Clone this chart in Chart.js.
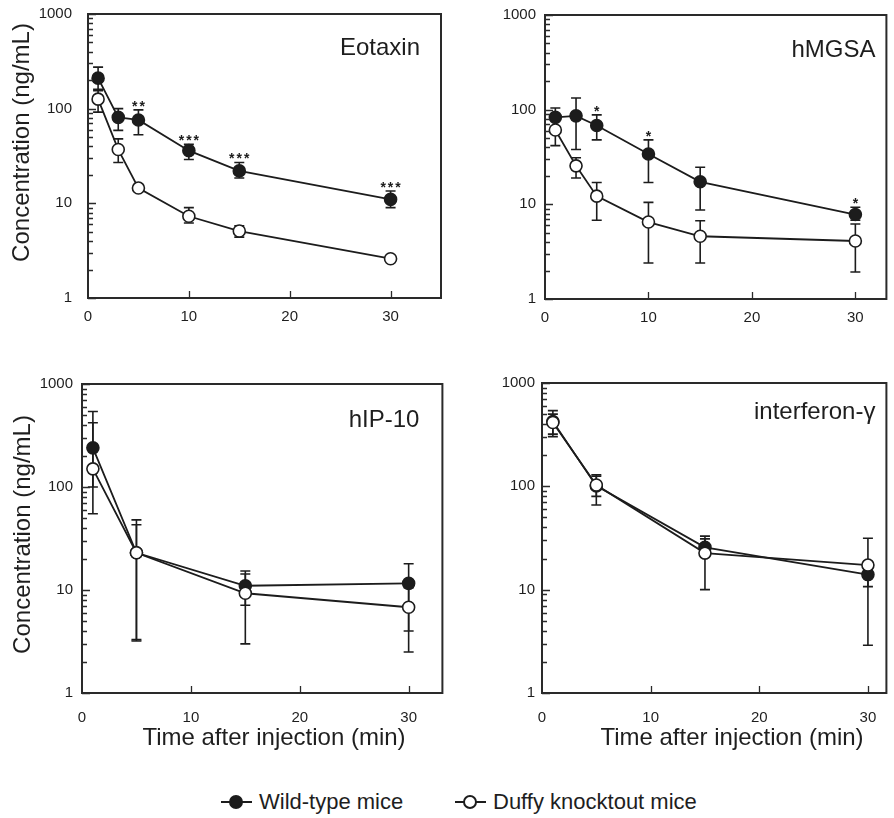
<!DOCTYPE html>
<html>
<head>
<meta charset="utf-8">
<script src="https://cdn.jsdelivr.net/npm/chart.js@4.4.0/dist/chart.umd.min.js"></script>
<style>
  body { margin: 0; background: #fff; width: 894px; height: 818px; position: relative; overflow: hidden;
         font-family: "Liberation Sans", Arial, sans-serif; color: #1e1e1e; }
  canvas { position: absolute; }
  .ln { position: absolute; height: 2px; width: 31px; background: #1c1c1c; top: 801px; }
  .dot { position: absolute; width: 14px; height: 14px; border-radius: 50%; box-sizing: border-box;
         border: 2px solid #1c1c1c; top: 795px; }
  .txt { position: absolute; top: 789px; font-size: 22px; line-height: 26px; white-space: nowrap; }
</style>
</head>
<body>
<canvas id="c1" width="450" height="335" style="left:0;top:0"></canvas>
<canvas id="c2" width="444" height="335" style="left:450px;top:0"></canvas>
<canvas id="c3" width="450" height="430" style="left:0;top:340px"></canvas>
<canvas id="c4" width="444" height="430" style="left:450px;top:340px"></canvas>

<!-- legend -->
<div class="ln" style="left:221px"></div>
<div class="dot" style="left:229px;background:#1c1c1c"></div>
<div class="txt" style="left:259px">Wild-type mice</div>
<div class="ln" style="left:455px"></div>
<div class="dot" style="left:463px;background:#fff"></div>
<div class="txt" style="left:493px">Duffy knocktout mice</div>

<script>
const INK = '#1c1c1c';
const yTicks = [1, 10, 100, 1000];
const xTicks = [0, 10, 20, 30];

// Eotaxin
const eotaxinTime = [1, 3, 5, 10, 15, 30];
const eotaxinWT = [210, 81, 76, 36, 22, 11];
const eotaxinWTHi = [275, 100, 97, 42, 27, 13.5];
const eotaxinWTLo = [155, 59, 53, 29, 18.5, 9];
const eotaxinKO = [126, 37, 14.5, 7.3, 5.1, 2.6];
const eotaxinKOHi = [160, 48, 15.5, 9, 5.8, 2.7];
const eotaxinKOLo = [92, 27, 13.6, 6.2, 4.4, 2.5];
const eotaxinSig = ['', '', '**', '***', '***', '***'];

// hMGSA
const hmgsaTime = [1, 3, 5, 10, 15, 30];
const hmgsaWT = [83, 86, 68, 34, 17.3, 7.8];
const hmgsaWTHi = [104, 133, 88, 48, 24.6, 9.3];
const hmgsaWTLo = [66, 38, 48, 17, 8.7, 6.8];
const hmgsaKO = [61, 25.5, 12.2, 6.5, 4.6, 4.1];
const hmgsaKOHi = [80, 31, 17, 10.5, 6.7, 6.2];
const hmgsaKOLo = [41.7, 19, 6.8, 2.4, 2.4, 1.93];
const hmgsaSig = ['', '', '*', '*', '', '*'];

// hIP-10
const hip10Time = [1, 5, 15, 30];
const hip10WT = [240, 23, 11, 11.6];
const hip10WTHi = [540, 43, 15.3, 18];
const hip10WTLo = [100, 3.2, 7.1, 4.0];
const hip10KO = [150, 23, 9.3, 6.8];
const hip10KOHi = [420, 48, 14.3, 10.5];
const hip10KOLo = [55, 3.3, 3.0, 2.5];

// interferon-gamma
const ifngTime = [1, 5, 15, 30];
const ifngWT = [424, 101, 25.7, 14];
const ifngWTHi = [540, 129, 31, 17.5];
const ifngWTLo = [303, 66, 21, 10.7];
const ifngKO = [415, 103, 22.6, 17.3];
const ifngKOHi = [500, 125, 33, 31.4];
const ifngKOLo = [320, 80, 10, 2.9];

Chart.defaults.font.family = '"Liberation Sans", Arial, sans-serif';
Chart.defaults.color = '#1e1e1e';

function makeSeries(times, vals, hi, lo, sig, filled) {
    return {
        data: times.map((t, i) => ({ x: t, y: vals[i] })),
        errHi: hi,
        errLo: lo,
        sig: sig,
        showLine: true,
        borderColor: INK,
        borderWidth: 1.8,
        pointRadius: 6,
        pointBorderWidth: 1.6,
        pointBackgroundColor: filled ? INK : '#fff',
        pointBorderColor: INK,
        order: filled ? 2 : 1
    };
}

// error bars, asterisks, frame, inner ticks and labels
const decorPlugin = {
    id: 'decor',
    beforeDatasetsDraw(chart) {
        const { ctx, scales: { x, y } } = chart;
        ctx.save();
        ctx.strokeStyle = INK;
        ctx.lineWidth = 1.6;
        chart.data.datasets.forEach(ds => {
            ds.data.forEach((p, i) => {
                const px = x.getPixelForValue(p.x);
                const top = y.getPixelForValue(ds.errHi[i]);
                const bot = y.getPixelForValue(ds.errLo[i]);
                ctx.beginPath();
                ctx.moveTo(px, top); ctx.lineTo(px, bot);
                ctx.moveTo(px - 5, top); ctx.lineTo(px + 5, top);
                ctx.moveTo(px - 5, bot); ctx.lineTo(px + 5, bot);
                ctx.stroke();
            });
        });
        ctx.restore();
    },
    afterDatasetsDraw(chart) {
        const { ctx, scales: { x, y } } = chart;
        ctx.save();
        ctx.fillStyle = INK;
        ctx.font = 'bold 14px "Liberation Sans", Arial, sans-serif';
        ctx.textAlign = 'center';
        ctx.textBaseline = 'alphabetic';
        ctx.letterSpacing = '2px';
        chart.data.datasets.forEach(ds => {
            if (!ds.sig) return;
            ds.data.forEach((p, i) => {
                if (!ds.sig[i]) return;
                ctx.fillText(ds.sig[i], x.getPixelForValue(p.x) + 1, y.getPixelForValue(ds.errHi[i]) + 1);
            });
        });
        ctx.restore();
    },
    afterDraw(chart, args, opts) {
        const { ctx, chartArea: a, scales: { x, y } } = chart;
        ctx.save();
        ctx.strokeStyle = '#2a2a2a';
        ctx.lineWidth = 2;
        ctx.strokeRect(a.left, a.top, a.right - a.left, a.bottom - a.top);

        // inward log ticks on the left edge
        ctx.lineWidth = 1.3;
        ctx.beginPath();
        [1, 10, 100].forEach(d => {
            for (let k = 1; k <= 10; k++) {
                const py = Math.round(y.getPixelForValue(d * k)) + 0.5;
                const len = (k === 1 || k === 10) ? 8 : 5;
                ctx.moveTo(a.left, py);
                ctx.lineTo(a.left + len, py);
            }
        });
        // inward x ticks
        xTicks.slice(1).forEach(v => {
            const px = Math.round(x.getPixelForValue(v)) + 0.5;
            ctx.moveTo(px, a.bottom);
            ctx.lineTo(px, a.bottom - 7);
        });
        ctx.stroke();

        ctx.fillStyle = '#1e1e1e';
        ctx.font = '24px "Liberation Sans", Arial, sans-serif';
        ctx.textAlign = 'right';
        ctx.textBaseline = 'alphabetic';
        ctx.fillText(opts.label, a.right - opts.labelRight, a.top + opts.labelBase);

        ctx.textAlign = 'center';
        ctx.textBaseline = 'middle';
        if (opts.yTitle) {
            ctx.save();
            ctx.translate(opts.yTitle[0], opts.yTitle[1]);
            ctx.rotate(-Math.PI / 2);
            ctx.fillText('Concentration (ng/mL)', 0, 0);
            ctx.restore();
        }
        if (opts.xTitle) {
            ctx.fillText('Time after injection (min)', opts.xTitle[0], opts.xTitle[1]);
        }
        ctx.restore();
    }
};

const panels = [
    {
        canvas: 'c1', label: 'Eotaxin', xMax: 35,
        pad: { left: 0, top: 14, right: 9, bottom: 0 }, yWidth: 88, xHeight: 37,
        yTickPad: 16, xTickPad: 10, labelRight: 21, labelBase: 41,
        yTitle: [22.5, 142.5], xTitle: null,
        series: [
            makeSeries(eotaxinTime, eotaxinWT, eotaxinWTHi, eotaxinWTLo, eotaxinSig, true),
            makeSeries(eotaxinTime, eotaxinKO, eotaxinKOHi, eotaxinKOLo, null, false)
        ]
    },
    {
        canvas: 'c2', label: 'hMGSA', xMax: 33,
        pad: { left: 0, top: 15, right: 1, bottom: 0 }, yWidth: 95, xHeight: 36,
        yTickPad: 9, xTickPad: 10, labelRight: 11, labelBase: 42,
        yTitle: null, xTitle: null,
        series: [
            makeSeries(hmgsaTime, hmgsaWT, hmgsaWTHi, hmgsaWTLo, hmgsaSig, true),
            makeSeries(hmgsaTime, hmgsaKO, hmgsaKOHi, hmgsaKOLo, null, false)
        ]
    },
    {
        canvas: 'c3', label: 'hIP-10', xMax: 33.1,
        pad: { left: 0, top: 44, right: 3, bottom: 0 }, yWidth: 82, xHeight: 77,
        yTickPad: 9, xTickPad: 16, labelRight: 23, labelBase: 43,
        yTitle: [23, 194.5], xTitle: [274, 398],
        series: [
            makeSeries(hip10Time, hip10WT, hip10WTHi, hip10WTLo, null, true),
            makeSeries(hip10Time, hip10KO, hip10KOHi, hip10KOLo, null, false)
        ]
    },
    {
        canvas: 'c4', label: 'interferon-\u03b3', xMax: 31.7,
        pad: { left: 0, top: 43, right: 1, bottom: 0 }, yWidth: 92, xHeight: 77,
        yTickPad: 7, xTickPad: 16, labelRight: 11, labelBase: 36,
        yTitle: null, xTitle: [282, 398],
        series: [
            makeSeries(ifngTime, ifngWT, ifngWTHi, ifngWTLo, null, true),
            makeSeries(ifngTime, ifngKO, ifngKOHi, ifngKOLo, null, false)
        ]
    }
];

panels.forEach(p => {
    new Chart(document.getElementById(p.canvas), {
        type: 'scatter',
        data: { datasets: p.series },
        options: {
            responsive: false,
            animation: false,
            layout: { padding: p.pad },
            scales: {
                x: {
                    type: 'linear', min: 0, max: p.xMax,
                    afterBuildTicks: s => { s.ticks = xTicks.map(v => ({ value: v })); },
                    afterFit: s => {
                        s.height = p.xHeight;
                        s.paddingLeft = 0;
                        s.paddingRight = 0;
                    },
                    grid: { display: false, drawTicks: false },
                    border: { display: false },
                    ticks: { padding: p.xTickPad, font: { size: 15 }, color: '#1e1e1e', maxRotation: 0 }
                },
                y: {
                    type: 'logarithmic', min: 1, max: 1000,
                    afterBuildTicks: s => { s.ticks = yTicks.map(v => ({ value: v })); },
                    afterFit: s => {
                        // keep tick padding from pushing the plot area down
                        s.width = p.yWidth;
                        s.paddingTop = 0;
                        s.paddingBottom = 0;
                    },
                    grid: { display: false, drawTicks: false },
                    border: { display: false },
                    ticks: { padding: p.yTickPad, font: { size: 15 }, color: '#1e1e1e', callback: v => String(v) }
                }
            },
            plugins: {
                legend: { display: false },
                tooltip: { enabled: false },
                decor: {
                    label: p.label, labelRight: p.labelRight, labelBase: p.labelBase,
                    yTitle: p.yTitle, xTitle: p.xTitle
                }
            }
        },
        plugins: [decorPlugin]
    });
});
</script>
</body>
</html>
